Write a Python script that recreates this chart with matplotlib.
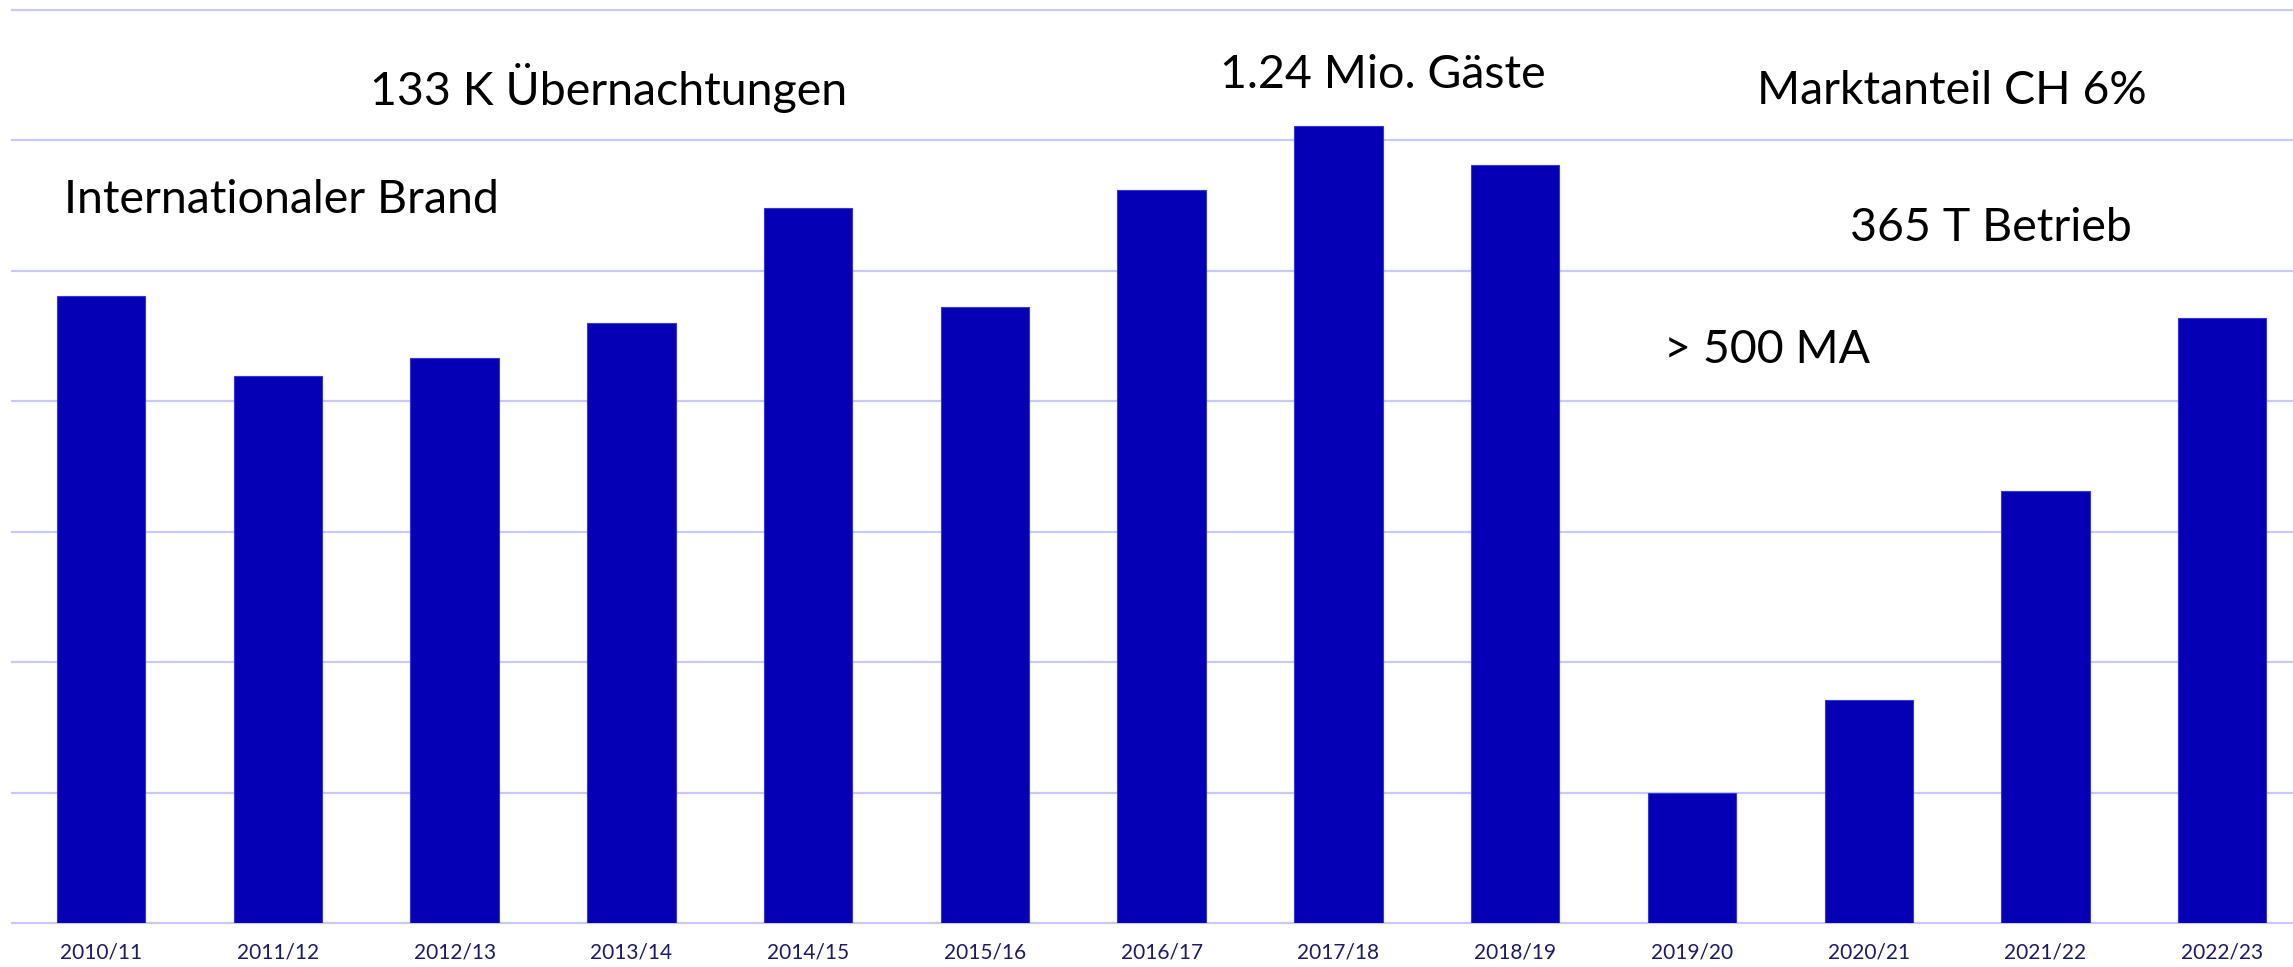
import matplotlib.pyplot as plt
import numpy as np

seasons = ['2010/11', '2011/12', '2012/13', '2013/14', '2014/15', '2015/16', '2016/17',
           '2017/18', '2018/19', '2019/20', '2020/21', '2021/22', '2022/23']
values = [4.81, 4.19, 4.33, 4.60, 5.48, 4.72, 5.62, 6.11, 5.81, 1.00, 1.71, 3.31, 4.64]

notes = ['133 K Übernachtungen', 'Internationaler Brand', '1.24 Mio. Gäste',
         'Marktanteil CH 6%', '365 T Betrieb', '> 500 MA']
note_x = [2.87, -0.21, 7.25, 10.47, 10.69, 8.84]
note_y = [6.40, 5.54, 6.50, 6.38, 5.33, 4.39]
note_ha = ['center', 'left', 'center', 'center', 'center', 'left']

plt.rcParams['font.family'] = ['Lato', 'DejaVu Sans']

fig = plt.figure(figsize=(22.93, 9.67), dpi=100)
ax = fig.add_axes([0.0052, 0.0455, 0.9948, 0.9442])

x = np.arange(len(seasons))
ax.bar(x, values, width=0.5, color='#0500b5', edgecolor='#3a36d0', linewidth=0.8, zorder=2)

ax.set_xlim(-0.504, 12.4)
ax.set_ylim(0, 7)
ax.set_yticks(range(0, 8))
ax.yaxis.grid(True, color='#c9c9f7', linewidth=1.6, zorder=0)
ax.set_axisbelow(True)
ax.tick_params(axis='y', left=False, labelleft=False)
ax.tick_params(axis='x', bottom=False, length=0, pad=14, labelsize=15, labelcolor='#1c1c66')
ax.set_xticks(x)
ax.set_xticklabels(seasons)
for s in ax.spines.values():
    s.set_visible(False)
for gl in ax.yaxis.get_gridlines():
    gl.set_clip_on(False)

for t, tx, ty, ha in zip(notes, note_x, note_y, note_ha):
    ax.text(tx, ty, t, ha=ha, va='center', fontsize=33.5, color='black')

fig.savefig('out.png', dpi=100)
